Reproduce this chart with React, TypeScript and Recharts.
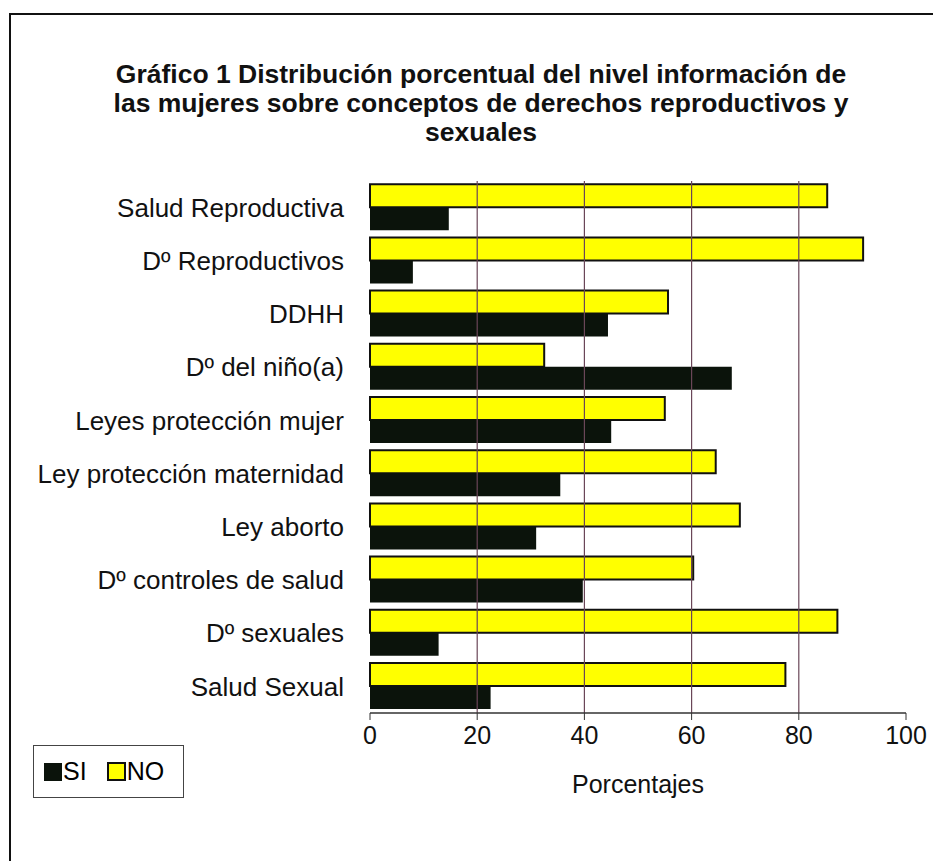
import React from 'react';
import { BarChart, Bar, XAxis, YAxis, ReferenceLine } from 'recharts';

// Categorías (de arriba hacia abajo)
const categories = [
  'Salud Reproductiva',
  'Dº Reproductivos',
  'DDHH',
  'Dº del niño(a)',
  'Leyes protección mujer',
  'Ley protección maternidad',
  'Ley aborto',
  'Dº controles de salud',
  'Dº sexuales',
  'Salud Sexual',
];

const noValues = [85.3, 92, 55.6, 32.5, 55, 64.5, 69, 60.3, 87.2, 77.5];
const siValues = [14.7, 8, 44.4, 67.5, 45, 35.5, 31, 39.7, 12.8, 22.5];

const xTicks = [0, 20, 40, 60, 80, 100];
const gridValues = [20, 40, 60, 80];
const boundaryTicks = [0, 1, 2, 3, 4, 5, 6, 7, 8, 9, 10];

const titleLines = [
  'Gráfico 1 Distribución porcentual del nivel información de',
  'las mujeres sobre conceptos de derechos reproductivos y',
  'sexuales',
];

const FONT = '"Liberation Sans", Arial, sans-serif';

const data = categories.map((name, i) => ({ name, NO: noValues[i], SI: siValues[i] }));

const LegendBox = () => (
  <div
    style={{
      position: 'absolute',
      left: 33,
      top: 745,
      width: 151,
      height: 53,
      border: '1px solid #444',
      boxSizing: 'border-box',
      display: 'flex',
      alignItems: 'center',
      paddingLeft: 10,
      fontFamily: FONT,
      fontSize: 25,
      color: '#000',
      background: '#fff',
    }}
  >
    <span style={{ width: 18, height: 18, background: '#0b130b', display: 'inline-block' }} />
    <span style={{ marginLeft: 1 }}>SI</span>
    <span
      style={{
        width: 15,
        height: 15,
        background: '#ffff00',
        border: '2px solid #111',
        display: 'inline-block',
        marginLeft: 20,
      }}
    />
    <span style={{ marginLeft: 1 }}>NO</span>
  </div>
);

export default function App() {
  return (
    <div
      style={{
        position: 'absolute',
        left: 0,
        top: 0,
        width: 933,
        height: 861,
        background: '#fff',
        overflow: 'hidden',
        fontFamily: FONT,
      }}
    >
      {/* marco */}
      <div style={{ position: 'absolute', left: 9, top: 13, width: 924, height: 2, background: '#111' }} />
      <div style={{ position: 'absolute', left: 9, top: 13, width: 2, height: 848, background: '#111' }} />
      <div
        style={{
          position: 'absolute',
          left: 0,
          top: 60,
          width: 962,
          textAlign: 'center',
          fontWeight: 'bold',
          fontSize: 26.5,
          lineHeight: '29px',
          color: '#111',
        }}
      >
        {titleLines.map((l) => (
          <div key={l}>{l}</div>
        ))}
      </div>
      <div style={{ position: 'absolute', left: 0, top: 0 }}>
        <BarChart
          width={933}
          height={861}
          data={data}
          layout="vertical"
          margin={{ top: 181, right: 27, bottom: 58, left: 0 }}
          barCategoryGap="6%"
          barGap={0}
        >
          <XAxis
            type="number"
            domain={[0, 100]}
            ticks={xTicks}
            height={90}
            axisLine={{ stroke: '#333', strokeWidth: 1.5 }}
            tickLine={{ stroke: '#333' }}
            tickSize={7}
            tickMargin={6}
            tick={{ fontSize: 25, fill: '#111', fontFamily: FONT }}
            label={{
              value: 'Porcentajes',
              position: 'insideBottom',
              offset: 10,
              fontSize: 25,
              fill: '#111',
              fontFamily: FONT,
            }}
          />
          <YAxis
            yAxisId="frame"
            type="number"
            domain={[0, 10]}
            ticks={boundaryTicks}
            width={0}
            tick={false}
            tickSize={6}
            axisLine={{ stroke: '#111', strokeWidth: 1.5 }}
            tickLine={{ stroke: '#111' }}
          />
          <YAxis
            type="category"
            dataKey="name"
            width={370}
            axisLine={false}
            tickLine={false}
            tickMargin={20}
            tick={{ fontSize: 26, fill: '#111', fontFamily: FONT }}
          />
          {gridValues.map((v) => (
            <ReferenceLine key={v} x={v} stroke="#6a4658" strokeWidth={1.2} />
          ))}
          <Bar dataKey="NO" name="NO" fill="#ffff00" stroke="#111" strokeWidth={2} isAnimationActive={false} />
          <Bar dataKey="SI" name="SI" fill="#0b130b" isAnimationActive={false} />
        </BarChart>
      </div>
      <LegendBox />
    </div>
  );
}
